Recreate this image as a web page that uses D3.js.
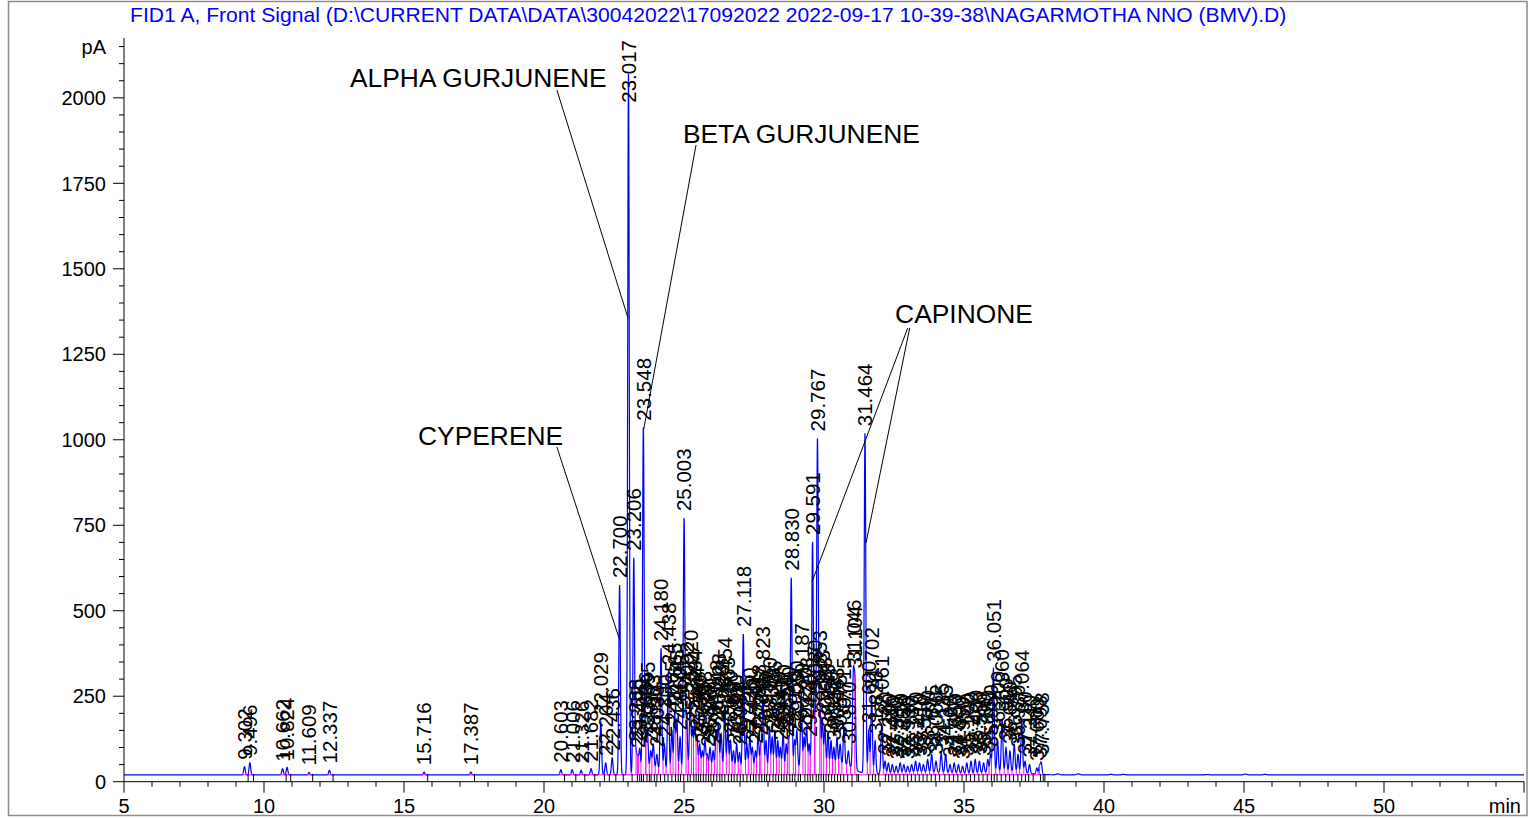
<!DOCTYPE html>
<html><head><meta charset="utf-8">
<script src="https://cdn.jsdelivr.net/npm/d3@7"></script>
<style>body{margin:0;background:#fff}svg{display:block}text{font-family:"Liberation Sans",Arial,sans-serif}</style>
</head><body><svg id="c" width="1529" height="818"></svg>
<script>
// ---------------- data ----------------
const titleText = "FID1 A, Front Signal (D:\\CURRENT DATA\\DATA\\30042022\\17092022 2022-09-17 10-39-38\\NAGARMOTHA NNO (BMV).D)";
const xMajorTicks = [5,10,15,20,25,30,35,40,45,50];
const yMajorTicks = [0,250,500,750,1000,1250,1500,1750,2000];
const yUnitLabel = "pA";
const xUnitLabel = "min";
const baselineLevel = 20;

const peakTimes = [
  9.302, 9.496, 10.662, 10.824, 11.609, 12.337, 15.716, 17.387,
  20.603, 21.006, 21.326, 21.682, 22.029, 22.204, 22.436, 22.700,
  23.017, 23.206, 23.288, 23.352, 23.420, 23.548, 23.636, 23.695, 23.812, 23.903,
  24.030, 24.180, 24.300, 24.438, 24.565, 24.665, 24.745, 24.860, 25.003, 25.092,
  25.220, 25.304, 25.384, 25.464, 25.560, 25.655, 25.748, 25.830, 25.930, 26.040,
  26.148, 26.228, 26.328, 26.454, 26.563, 26.660, 26.766, 26.880, 26.984, 27.118,
  27.245, 27.350, 27.440, 27.552, 27.648, 27.745, 27.823, 27.930, 28.050, 28.148,
  28.246, 28.349, 28.441, 28.540, 28.650, 28.740, 28.830, 28.950, 29.030, 29.187,
  29.290, 29.378, 29.470, 29.591, 29.680, 29.767, 29.853, 29.943, 30.033, 30.143,
  30.250, 30.352, 30.463, 30.575, 30.715, 30.870, 31.046, 31.104, 31.464, 31.600,
  31.702, 31.826, 32.061, 32.180, 32.300, 32.440, 32.580, 32.720, 32.850, 32.990,
  33.130, 33.270, 33.410, 33.550, 33.700, 33.845, 34.000, 34.185, 34.345, 34.500,
  34.650, 34.800, 34.950, 35.100, 35.250, 35.400, 35.550, 35.700, 35.850, 35.950,
  36.051, 36.200, 36.360, 36.500, 36.640, 36.795, 36.930, 37.064, 37.180, 37.340,
  37.600, 37.698, 37.758
];
const peakApex = [
  44, 55, 38, 42, 27, 33, 28, 28,
  35, 35, 33, 38, 175, 55, 70, 575,
  2070, 654, 85, 70, 95, 1035, 100, 140, 90, 110,
  80, 390, 110, 320, 150, 200, 180, 130, 770, 200,
  240, 150, 180, 130, 110, 90, 120, 80, 100, 90,
  150, 170, 140, 220, 160, 120, 90, 110, 85, 432,
  110, 130, 100, 90, 140, 110, 250, 120, 160, 130,
  150, 120, 100, 140, 110, 130, 596, 120, 150, 260,
  130, 160, 110, 700, 200, 1001, 230, 180, 160, 140,
  120, 100, 130, 110, 160, 90, 300, 280, 1019, 150,
  248, 120, 165, 60, 55, 50, 45, 55, 50, 45,
  50, 60, 55, 50, 65, 80, 60, 85, 80, 50,
  55, 50, 45, 55, 60, 65, 60, 55, 65, 80,
  330, 120, 184, 100, 90, 110, 80, 182, 60, 50,
  40, 45, 55
];
// broad unresolved background humps: centre (min), height (pA), width (min)
const humpTimes   = [23.9, 25.6, 27.4, 29.4, 30.7, 33.6, 36.5];
const humpHeights = [18, 22, 20, 24, 28, 8, 10];
const humpWidths  = [0.35, 0.6, 0.8, 0.5, 0.35, 1.3, 0.6];
// tiny unlabelled late bumps
const bumpTimes   = [38.35, 39.08, 40.25, 40.7, 43.7, 45.05, 45.75];
const bumpHeights = [3, 3, 1.5, 1.5, 1, 2.5, 1.5];

const annNames   = ["ALPHA GURJUNENE", "BETA GURJUNENE", "CYPERENE", "CAPINONE"];
const annTextT   = [13.07, 24.96, 15.50, 32.54];   // text left edge (min)
const annTextV   = [2032, 1868, 985, 1342];         // text baseline (pA)
const annFromT   = [[20.46], [25.43], [20.46], [32.99, 33.06]];
const annFromV   = [[2023], [1862], [979], [1327, 1327]];
const annToT     = [[23.00], [23.56], [22.68], [29.57, 31.50]];
const annToV     = [[1356], [1030], [420], [584, 698]];

// ---------------- chart ----------------
const svg = d3.select("#c");
const x = d3.scaleLinear().domain([5, 55]).range([124, 1524]);
const y = d3.scaleLinear().domain([0, 2175]).range([781.7, 38]);
const SIGMA = 0.028;

svg.append("rect").attr("x", 8.5).attr("y", 1.5).attr("width", 1518.5).attr("height", 814)
  .attr("fill", "#fff").attr("stroke", "#8c8c8c").attr("stroke-width", 1.5);

// title
const tt = svg.append("text").attr("x", 130).attr("y", 22).attr("fill", "#0000ff")
  .attr("font-size", 18).text(titleText);
const tl = tt.node().getComputedTextLength();
tt.attr("font-size", 18 * 1157 / tl);

// signal
function humpAt(t) {
  let s = 0;
  for (let i = 0; i < humpTimes.length; i++) {
    const d = (t - humpTimes[i]) / humpWidths[i];
    s += humpHeights[i] * Math.exp(-0.5 * d * d);
  }
  return s;
}
function signalAt(t) {
  let s = baselineLevel + humpAt(t);
  for (let i = 0; i < peakTimes.length; i++) {
    const d = (t - peakTimes[i]) / SIGMA;
    if (Math.abs(d) < 8) s += (peakApex[i] - baselineLevel - humpAt(peakTimes[i])) * Math.exp(-0.5 * d * d);
  }
  for (let i = 0; i < bumpTimes.length; i++) {
    const d = (t - bumpTimes[i]) / 0.05;
    if (Math.abs(d) < 8) s += bumpHeights[i] * Math.exp(-0.5 * d * d);
  }
  return s;
}
const ts = d3.range(5, 55.0001, 0.004);
const pts = ts.map(t => [t, signalAt(t)]);
peakTimes.forEach(t => pts.push([t, signalAt(t)]));
pts.sort((a, b) => a[0] - b[0]);

svg.append("path").datum(pts)
  .attr("d", d3.line().x(d => x(d[0])).y(d => y(d[1])))
  .attr("fill", "none").attr("stroke", "#0000ff").attr("stroke-width", 1.2);

// integration baselines (magenta)
const mag = svg.append("g").attr("stroke", "#ff00ff").attr("stroke-width", 1).attr("fill", "none");
const segs = [];
peakTimes.forEach(t => {
  const a = t - 0.08, b = t + 0.1;
  if (segs.length && a <= segs[segs.length - 1][1] + 0.35) segs[segs.length - 1][1] = b;
  else segs.push([a, b]);
});
segs.forEach(s => {
  mag.append("line").attr("x1", x(s[0])).attr("x2", x(s[1]))
    .attr("y1", y(baselineLevel)).attr("y2", y(baselineLevel));
});
for (let i = 1; i < peakTimes.length; i++) {
  const a = peakTimes[i - 1], b = peakTimes[i];
  if (b - a > 0.3) continue;
  let mt = a, mv = Infinity;
  for (let t = a; t <= b; t += 0.003) { const v = signalAt(t); if (v < mv) { mv = v; mt = t; } }
  mag.append("line").attr("x1", x(mt)).attr("x2", x(mt))
    .attr("y1", y(baselineLevel)).attr("y2", y(mv));
}

// peak end markers (black)
const mk = svg.append("g").attr("stroke", "#000").attr("stroke-width", 1);
peakTimes.forEach(t => {
  mk.append("line").attr("x1", x(t + 0.13)).attr("x2", x(t + 0.13))
    .attr("y1", y(baselineLevel) - 1).attr("y2", y(0));
});

// axes
const ax = svg.append("g").attr("stroke", "#000").attr("stroke-width", 1);
ax.append("line").attr("x1", x(5)).attr("x2", x(55)).attr("y1", y(0)).attr("y2", y(0));
ax.append("line").attr("x1", x(5)).attr("x2", x(5)).attr("y1", y(0)).attr("y2", y(2175));
d3.range(5, 55.5, 1).forEach(v => {
  const major = v % 5 === 0;
  ax.append("line").attr("x1", x(v)).attr("x2", x(v)).attr("y1", y(0)).attr("y2", y(0) + (major ? 11 : 5));
});
d3.range(0, 2175, 50).forEach(v => {
  const major = v % 250 === 0;
  ax.append("line").attr("x1", x(5) - (major ? 11 : 5)).attr("x2", x(5)).attr("y1", y(v)).attr("y2", y(v));
});
const lab = svg.append("g").attr("font-size", 20).attr("fill", "#000");
xMajorTicks.forEach(v => {
  lab.append("text").attr("x", x(v)).attr("y", 813).attr("text-anchor", "middle").text(v);
});
lab.append("text").attr("x", x(55) - 3).attr("y", 813).attr("text-anchor", "end").text(xUnitLabel);
yMajorTicks.forEach(v => {
  lab.append("text").attr("x", 106).attr("y", y(v)).attr("dy", "0.36em").attr("text-anchor", "end").text(v);
});
lab.append("text").attr("x", 106).attr("y", y(2150)).attr("dy", "0.36em").attr("text-anchor", "end").text(yUnitLabel);

// peak labels
const pl = svg.append("g").attr("font-size", 20.5).attr("fill", "#000");
peakTimes.forEach((t, i) => {
  const txt = t.toFixed(3);
  const el = pl.append("text").attr("text-anchor", "start").attr("dy", "0.36em").text(txt);
  const len = el.node().getComputedTextLength();
  let bottom = y(signalAt(t)) - 7;
  if (bottom - len < 40) bottom = 40 + len;
  el.attr("transform", `translate(${x(t)},${bottom}) rotate(-90)`);
});

// annotations
const an = svg.append("g");
annNames.forEach((n, i) => {
  an.append("text").attr("x", x(annTextT[i])).attr("y", y(annTextV[i]))
    .attr("font-size", 26.4).attr("fill", "#000").text(n);
  annToT[i].forEach((tt2, j) => {
    an.append("line").attr("x1", x(annFromT[i][j])).attr("y1", y(annFromV[i][j]))
      .attr("x2", x(tt2)).attr("y2", y(annToV[i][j]))
      .attr("stroke", "#000").attr("stroke-width", 1);
  });
});
</script></body></html>
